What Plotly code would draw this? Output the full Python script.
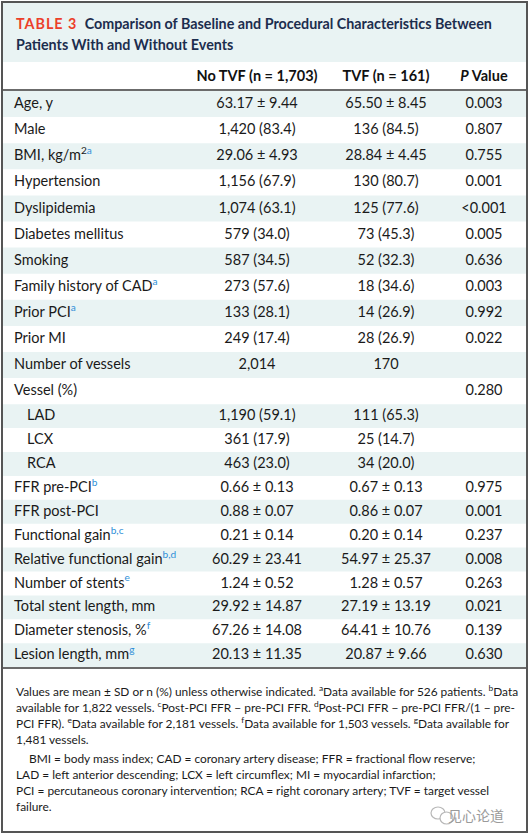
import plotly.graph_objects as go

# ---------------- data ----------------
labels = ["Age, y", "Male", "BMI, kg/m<sup>2</sup>", "Hypertension", "Dyslipidemia",
          "Diabetes mellitus", "Smoking", "Family history of CAD", "Prior PCI", "Prior MI",
          "Number of vessels", "Vessel (%)", "LAD", "LCX", "RCA", "FFR pre-PCI",
          "FFR post-PCI", "Functional gain", "Relative functional gain", "Number of stents",
          "Total stent length, mm", "Diameter stenosis, %", "Lesion length, mm"]
label_notes = ["", "", "a", "", "", "", "", "a", "a", "", "", "", "", "", "", "b",
               "", "b,c", "b,d", "e", "", "f", "g"]
indented = ["LAD", "LCX", "RCA"]
no_tvf = ["63.17 ± 9.44", "1,420 (83.4)", "29.06 ± 4.93", "1,156 (67.9)", "1,074 (63.1)",
          "579 (34.0)", "587 (34.5)", "273 (57.6)", "133 (28.1)", "249 (17.4)", "2,014", "",
          "1,190 (59.1)", "361 (17.9)", "463 (23.0)", "0.66 ± 0.13", "0.88 ± 0.07",
          "0.21 ± 0.14", "60.29 ± 23.41", "1.24 ± 0.52", "29.92 ± 14.87", "67.26 ± 14.08",
          "20.13 ± 11.35"]
tvf = ["65.50 ± 8.45", "136 (84.5)", "28.84 ± 4.45", "130 (80.7)", "125 (77.6)",
       "73 (45.3)", "52 (32.3)", "18 (34.6)", "14 (26.9)", "28 (26.9)", "170", "",
       "111 (65.3)", "25 (14.7)", "34 (20.0)", "0.67 ± 0.13", "0.86 ± 0.07",
       "0.20 ± 0.14", "54.97 ± 25.37", "1.28 ± 0.57", "27.19 ± 13.19", "64.41 ± 10.76",
       "20.87 ± 9.66"]
p_values = ["0.003", "0.807", "0.755", "0.001", "<0.001", "0.005", "0.636", "0.003",
            "0.992", "0.022", "", "0.280", "", "", "", "0.975", "0.001", "0.237", "0.008",
            "0.263", "0.021", "0.139", "0.630"]
col_headers = ["No TVF (n = 1,703)", "TVF (n = 161)", "<i>P</i> Value"]
title_tag = "TABLE 3"
title_lines = ["Comparison of Baseline and Procedural Characteristics Between",
               "Patients With and Without Events"]
footnote_p1 = [
    "Values are mean ± SD or n (%) unless otherwise indicated. <sup>a</sup>Data available for 526 patients. <sup>b</sup>Data",
    "available for 1,822 vessels. <sup>c</sup>Post-PCI FFR − pre-PCI FFR. <sup>d</sup>Post-PCI FFR − pre-PCI FFR/(1 − pre-",
    "PCI FFR). <sup>e</sup>Data available for 2,181 vessels. <sup>f</sup>Data available for 1,503 vessels. <sup>g</sup>Data available for",
    "1,481 vessels.",
]
footnote_p2 = [
    "BMI = body mass index; CAD = coronary artery disease; FFR = fractional flow reserve;",
    "LAD = left anterior descending; LCX = left circumflex; MI = myocardial infarction;",
    "PCI = percutaneous coronary intervention; RCA = right coronary artery; TVF = target vessel",
    "failure.",
]
watermark = "见心论道"

# ---------------- layout helpers ----------------
W, H = 530, 834
FONT = "Lato"
TEAL = "#e9f3f3"
TXT = "#1a1a1a"
BLUE = "#2f8fd8"
NAVY = "#1c2d4e"
RED = "#ec3f2a"
LEFT, RIGHT = 3, 526
X_LABEL, X_INDENT, X_C1, X_C2, X_C3 = 14, 27, 257, 386, 484
BODY = 14.5
FOOT = 11.9

# row geometry
row_bounds = []
y = 91.0
for i in range(len(labels)):
    h = 26.1 if i < 12 else 23.9
    row_bounds.append((y, y + h))
    y += h
table_bottom = y
row_centers = [(a + b) / 2 + 0.5 for a, b in row_bounds]

fig = go.Figure()
shapes = []
shapes.append(dict(type="rect", xref="x", yref="y", x0=LEFT, x1=RIGHT, y0=3, y1=62,
                   fillcolor=TEAL, line_width=0, layer="below"))
for i, (a, b) in enumerate(row_bounds):
    if i % 2 == 0:
        shapes.append(dict(type="rect", xref="x", yref="y", x0=LEFT, x1=RIGHT, y0=a, y1=b,
                           fillcolor=TEAL, line_width=0, layer="below"))
shapes.append(dict(type="line", xref="x", yref="y", x0=LEFT, x1=RIGHT, y0=90, y1=90,
                   line=dict(color="#3a3a3a", width=1.5)))
shapes.append(dict(type="line", xref="x", yref="y", x0=LEFT, x1=RIGHT, y0=table_bottom + 1,
                   y1=table_bottom + 1, line=dict(color="#3a3a3a", width=1.5)))
shapes.append(dict(type="rect", xref="x", yref="y", x0=2, x1=527, y0=2, y1=832,
                   line=dict(color="#555555", width=2), fillcolor="rgba(0,0,0,0)"))
shapes.append(dict(type="circle", xref="x", yref="y", x0=431, x1=445, y0=807, y1=819,
                   line=dict(color="#b8b8b8", width=1.2)))
shapes.append(dict(type="circle", xref="x", yref="y", x0=440, x1=453, y0=812, y1=824,
                   line=dict(color="#b8b8b8", width=1.2), fillcolor="white"))

lab_text = []
lab_x = []
for lab, note in zip(labels, label_notes):
    t = lab
    if note:
        t += f"<sup><span style='color:{BLUE}'>{note}</span></sup>"
    lab_text.append(t)
    lab_x.append(X_INDENT if lab in indented else X_LABEL)

fig.add_trace(go.Scatter(x=lab_x, y=row_centers, mode="text", text=lab_text,
                         textposition="middle right",
                         textfont=dict(family=FONT, size=BODY, color=TXT), hoverinfo="skip"))
for col, xc in ((no_tvf, X_C1), (tvf, X_C2), (p_values, X_C3)):
    fig.add_trace(go.Scatter(x=[xc] * len(col), y=row_centers, mode="text", text=col,
                             textposition="middle center",
                             textfont=dict(family=FONT, size=BODY, color=TXT), hoverinfo="skip"))
fig.add_trace(go.Scatter(x=[X_C1, X_C2, X_C3], y=[77, 77, 77], mode="text",
                         text=[f"<b>{h}</b>" for h in col_headers], textposition="middle center",
                         textfont=dict(family=FONT, size=BODY, color="#111111"), hoverinfo="skip"))

annotations = []
annotations.append(dict(x=14, y=23, xref="x", yref="y", xanchor="left", yanchor="middle",
                        text=f"<b><span style='color:{RED};letter-spacing:1px'>{title_tag}</span></b>"
                             f"&nbsp;&nbsp;<b>{title_lines[0]}</b>",
                        showarrow=False, font=dict(family=FONT, size=14.3, color=NAVY)))
annotations.append(dict(x=14, y=44, xref="x", yref="y", xanchor="left", yanchor="middle",
                        text=f"<b>{title_lines[1]}</b>", showarrow=False,
                        font=dict(family=FONT, size=14.3, color=NAVY)))
fy = 691
for line in footnote_p1:
    annotations.append(dict(x=14, y=fy, xref="x", yref="y", xanchor="left", yanchor="middle",
                            text=line, showarrow=False, font=dict(family=FONT, size=FOOT, color=TXT)))
    fy += 16
fy = 758
for j, line in enumerate(footnote_p2):
    annotations.append(dict(x=27 if j == 0 else 14, y=fy, xref="x", yref="y", xanchor="left",
                            yanchor="middle", text=line, showarrow=False,
                            font=dict(family=FONT, size=FOOT, color=TXT)))
    fy += 16.3
annotations.append(dict(x=506, y=815, xref="x", yref="y", xanchor="right", yanchor="middle",
                        text=watermark, showarrow=False,
                        font=dict(family="Noto Sans CJK SC", size=14, color="#9a9a9a")))

fig.update_layout(
    width=W, height=H, margin=dict(l=0, r=0, t=0, b=0),
    paper_bgcolor="white", plot_bgcolor="white", showlegend=False,
    xaxis=dict(range=[0, W], visible=False, fixedrange=True),
    yaxis=dict(range=[H, 0], visible=False, fixedrange=True),
    shapes=shapes, annotations=annotations,
)
fig.write_html(
    "out.html",
    config={"displayModeBar": False},
    post_script="document.body.style.margin='0';document.body.style.overflow='hidden';",
)
